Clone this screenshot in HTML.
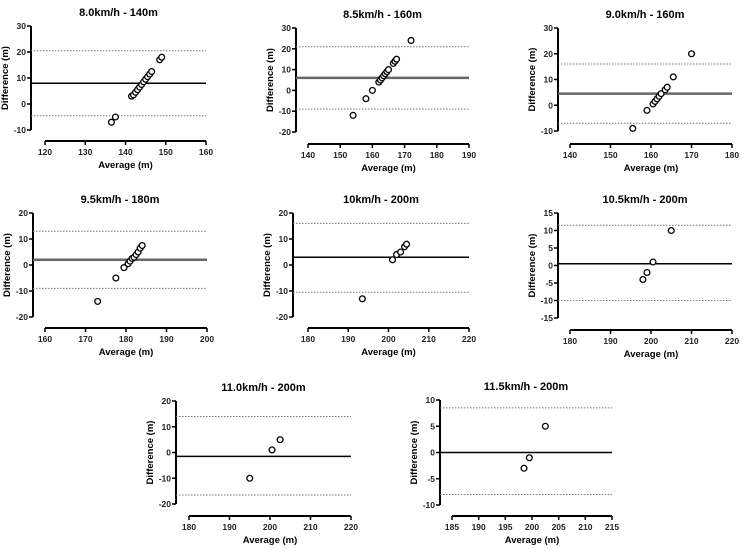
<!DOCTYPE html>
<html><head><meta charset="utf-8"><style>
html,body{margin:0;padding:0;background:#fff;}
svg{display:block;font-family:"Liberation Sans",Arial,sans-serif;font-weight:bold;}
</style></head><body>
<svg id="fig" width="743" height="549" viewBox="0 0 743 549"></svg>
<script>
// Data per panel
const titles = ["8.0km/h - 140m","8.5km/h - 160m","9.0km/h - 160m","9.5km/h - 180m","10km/h - 200m","10.5km/h - 200m","11.0km/h - 200m","11.5km/h - 200m"];
const p1x = [136.5,137.5,141.5,142,142.5,143,143.5,144,144.5,145,145.5,146,146.5,148.5,149];
const p1y = [-7,-5,3,3.5,4.5,5.5,6.5,7.5,8.5,9.5,10.5,11.5,12.5,17,18];
const p2x = [154,158,160,162,162.5,163,163.5,164,164.5,165,166.5,167,167.5,172];
const p2y = [-12,-4,0,4,5,6,7,8,9,10,13,14,15,24];
const p3x = [155.5,159,160.5,161,161.5,162,162.5,163.5,164,165.5,170];
const p3y = [-9,-2,0.5,1.5,2.5,3.5,4.5,6,7,11,20];
const p4x = [173,177.5,179.5,180.5,181,181.5,182,182.5,183,183.5,184];
const p4y = [-14,-5,-1,0.5,1.5,2.5,3,4,5,6.5,7.5];
const p5x = [193.5,201,202,203,204,204.5];
const p5y = [-13,2,4,5,7,8];
const p6x = [198,199,200.5,205];
const p6y = [-4,-2,1,10];
const p7x = [195,200.5,202.5];
const p7y = [-10,1,5];
const p8x = [198.5,199.5,202.5];
const p8y = [-3,-1,5];
const meanBias = [8,6,4.5,2,3,0.5,-1.5,0];
const upperLoA = [20.5,21,16,13,16,11.5,14,8.5];
const lowerLoA = [-4.5,-9,-7,-9,-10.5,-10,-16.5,-8];
const xTicks = [[120,130,140,150,160],[140,150,160,170,180,190],[140,150,160,170,180],[160,170,180,190,200],[180,190,200,210,220],[180,190,200,210,220],[180,190,200,210,220],[185,190,195,200,205,210,215]];
const yTicks = [[-10,0,10,20,30],[-20,-10,0,10,20,30],[-10,0,10,20,30],[-20,-10,0,10,20],[-20,-10,0,10,20],[-15,-10,-5,0,5,10,15],[-20,-10,0,10,20],[-10,-5,0,5,10]];
const xsData=[p1x,p2x,p3x,p4x,p5x,p6x,p7x,p8x];
const ysData=[p1y,p2y,p3y,p4y,p5y,p6y,p7y,p8y];

// layout (pixel geometry, not data)
const L=[
 {ax:31,x0:45,x1:206,yt:26,yb:130,xa:141,gray:false},
 {ax:296,x0:308,x1:469,yt:28,yb:132,xa:144,gray:true},
 {ax:558,x0:570,x1:732,yt:28,yb:131,xa:144,gray:true},
 {ax:33,x0:45,x1:207,yt:213,yb:317,xa:328,gray:true},
 {ax:293,x0:308,x1:469,yt:213,yb:317,xa:328,gray:false},
 {ax:558,x0:570,x1:732,yt:213,yb:318,xa:330,gray:false},
 {ax:176,x0:189,x1:351,yt:401,yb:504,xa:516,gray:false},
 {ax:440,x0:452,x1:612,yt:400,yb:505,xa:516,gray:false}
];
const NS="http://www.w3.org/2000/svg";
const svg=document.getElementById('fig');
function mk(tag,attrs,parent,text){const e=document.createElementNS(NS,tag);for(const k in attrs)e.setAttribute(k,attrs[k]);if(text!==undefined)e.textContent=text;parent.appendChild(e);return e;}
for(let i=0;i<8;i++){
  const g=L[i];const xt=xTicks[i],yt=yTicks[i];
  const xmin=xt[0],xmax=xt[xt.length-1],ymin=yt[0],ymax=yt[yt.length-1];
  const sx=v=>g.x0+(v-xmin)/(xmax-xmin)*(g.x1-g.x0);
  const sy=v=>g.yb-(v-ymin)/(ymax-ymin)*(g.yb-g.yt);
  const grp=mk('g',{},svg);
  
  
  const t=mk('text',{x:(g.ax+g.x1)/2,y:g.yt-10,'text-anchor':'middle','font-size':'11'},grp,titles[i]);
  
  
  const ya=mk('line',{x1:g.ax,x2:g.ax,y1:g.yt,y2:g.yb,stroke:'#000','stroke-width':2},grp);
  
  
  yt.forEach(v=>{
    mk('line',{x1:g.ax-4,x2:g.ax,y1:sy(v),y2:sy(v),stroke:'#000','stroke-width':1.5},grp);
    const tl=mk('text',{x:g.ax-5,y:sy(v)+3,'text-anchor':'end','font-size':'8.5',fill:'#222'},grp,String(v));
    
    
  });
  const xa=mk('line',{x1:g.x0,x2:g.x1,y1:g.xa,y2:g.xa,stroke:'#000','stroke-width':2},grp);
  
  
  xt.forEach(v=>{
    mk('line',{x1:sx(v),x2:sx(v),y1:g.xa,y2:g.xa+4,stroke:'#000','stroke-width':1.5},grp);
    const tl=mk('text',{x:sx(v),y:g.xa+14,'text-anchor':'middle','font-size':'8.5',fill:'#222'},grp,String(v));
    
    
  });
  const xtl=mk('text',{x:(g.x0+g.x1)/2,y:g.xa+27,'text-anchor':'middle','font-size':'9.5'},grp,'Average (m)');
  
  
  const cy=(g.yt+g.yb)/2, lx=g.ax-23;
  const ytl=mk('text',{x:lx,y:cy,'text-anchor':'middle','font-size':'9.5',transform:`rotate(-90 ${lx} ${cy})`},grp,'Difference (m)');
  
  
  [upperLoA[i],lowerLoA[i]].forEach((v,k)=>{
    const d=mk('line',{x1:g.ax,x2:g.x1,y1:sy(v),y2:sy(v),stroke:'#777','stroke-width':1,'stroke-dasharray':'1.5 1.5'},grp);
    
    
  });
  const m=mk('line',{x1:g.ax,x2:g.x1,y1:sy(meanBias[i]),y2:sy(meanBias[i]),stroke:g.gray?'#666':'#000','stroke-width':g.gray?2.5:1.5},grp);
  
  
  xsData[i].forEach((v,j)=>{
    const c=mk('circle',{cx:sx(v),cy:sy(ysData[i][j]),r:2.9,fill:'#fff',stroke:'#000','stroke-width':1.3},grp);
    
    
  });
}
</script>
</body></html>
